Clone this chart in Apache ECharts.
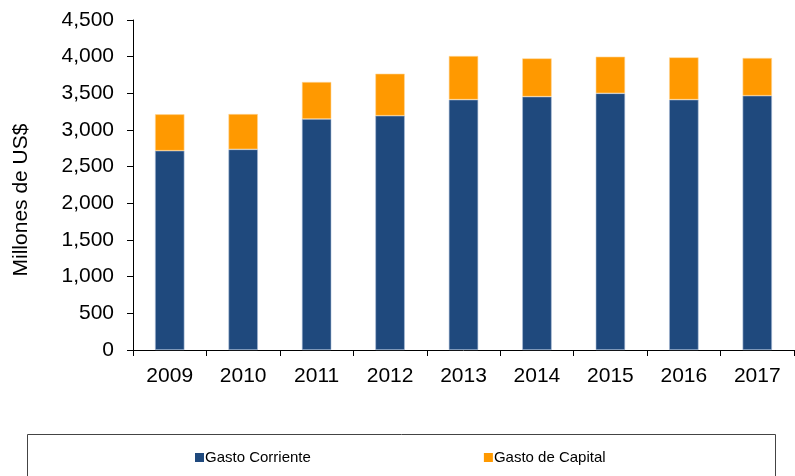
<!DOCTYPE html>
<html>
<head>
<meta charset="utf-8">
<script src="https://cdn.jsdelivr.net/npm/echarts@6/dist/echarts.min.js"></script>
<style>
  html, body { margin: 0; padding: 0; background: #fff; }
  #chart { width: 795px; height: 476px; }
</style>
</head>
<body>
<div id="chart"></div>
<script>
// data
var years = ['2009', '2010', '2011', '2012', '2013', '2014', '2015', '2016', '2017']
var gastoCorriente = [2718, 2736, 3150, 3195, 3414, 3455, 3500, 3414, 3468]
var gastoCapital = [496, 482, 505, 573, 595, 522, 500, 577, 514]

var myChart = echarts.init(document.getElementById('chart'))

var fontFam = '"Liberation Sans", Arial, sans-serif'

var option = {
  animation: false,
  textStyle: { fontFamily: fontFam },
  grid: {
    left: 133,
    right: 1,
    top: 20,
    bottom: 126,
    outerBoundsMode: 'none',
    containLabel: false
  },
  legend: {
    data: ['Gasto Corriente', 'Gasto de Capital'],
    top: 450,
    left: 195,
    padding: 0,
    itemWidth: 9,
    itemHeight: 9,
    itemGap: 173,
    icon: 'rect',
    itemStyle: { borderWidth: 0 },
    textStyle: { fontSize: 15, color: '#000', fontFamily: fontFam, padding: [0, 0, 0, -4] }
  },
  xAxis: {
    type: 'category',
    data: years,
    boundaryGap: true,
    axisLine: { lineStyle: { color: '#000', width: 1 } },
    axisTick: { show: true, length: 6, lineStyle: { color: '#000' } },
    axisLabel: { color: '#000', fontSize: 21, margin: 16 }
  },
  yAxis: {
    type: 'value',
    min: 0,
    max: 4500,
    interval: 500,
    name: 'Millones de US$',
    nameLocation: 'middle',
    nameGap: 101,
    nameTextStyle: { fontSize: 21, color: '#000', padding: [0, 30, 0, 0] },
    splitLine: { show: false },
    axisLine: { show: true, lineStyle: { color: '#000', width: 1 } },
    axisTick: { show: true, length: 6, lineStyle: { color: '#000' } },
    axisLabel: {
      color: '#000',
      fontSize: 21,
      margin: 19,
      formatter: function (v) { return v.toLocaleString('en-US') }
    }
  },
  series: [
    {
      name: 'Gasto Corriente',
      type: 'bar',
      stack: 'total',
      barWidth: '40%',
      data: gastoCorriente,
      itemStyle: { color: '#1f497d', borderColor: '#a9bcd6', borderWidth: 0.6 }
    },
    {
      name: 'Gasto de Capital',
      type: 'bar',
      stack: 'total',
      data: gastoCapital,
      itemStyle: { color: '#ff9900', borderColor: '#ffd699', borderWidth: 0.6 }
    }
  ],
  graphic: [
    {
      type: 'rect',
      left: 25,
      top: 432,
      shape: { width: 748, height: 60 },
      style: { fill: 'none', stroke: '#444', lineWidth: 1 },
      z: -1
    }
  ]
}

myChart.setOption(option)
</script>
</body>
</html>
